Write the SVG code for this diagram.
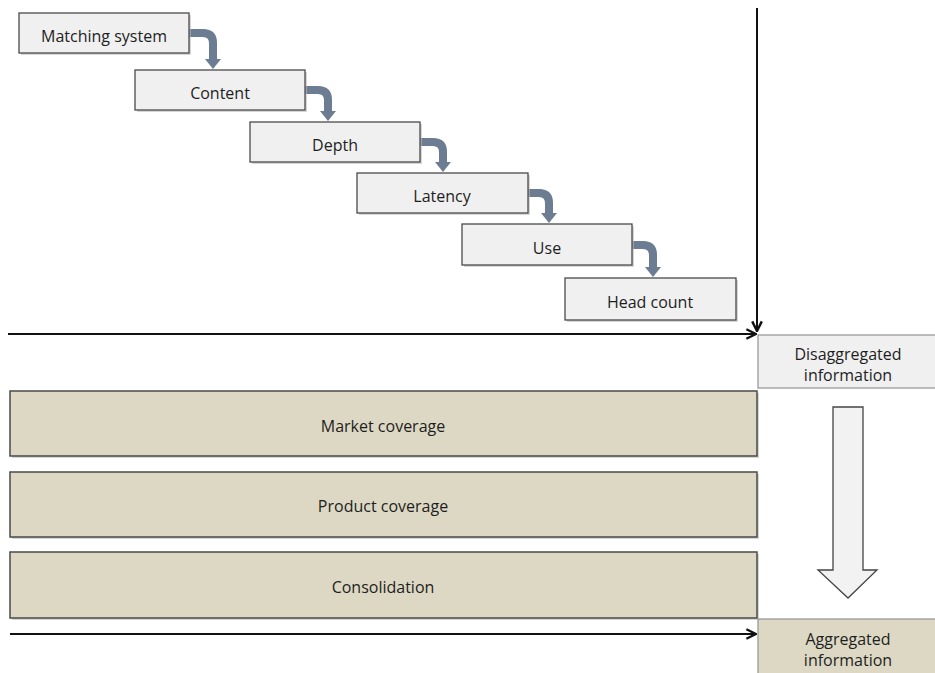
<svg xmlns="http://www.w3.org/2000/svg" width="935" height="673" viewBox="0 0 935 673">
<style>
.step{fill:#f0f0f0;stroke:#4a4a4a;stroke-width:1.3}
.band{fill:#ddd8c4;stroke:#4a4a4a;stroke-width:1.5}
.shadow{fill:#bbbbbb;opacity:0.6}
.t{font-family:"Open Sans","Liberation Sans",sans-serif;font-size:16px;fill:#1e1e1e;text-anchor:middle}
.flow{fill:none;stroke:#6b7c93;stroke-width:8}
.axis{stroke:#111;stroke-width:2;fill:none}
</style>
<defs>
<marker id="fh" viewBox="0 0 10 10" preserveAspectRatio="none" refX="0" refY="5" markerWidth="10" markerHeight="16" markerUnits="userSpaceOnUse" orient="auto">
<path d="M0,0 L10,5 L0,10 Z" fill="#6b7c93"/>
</marker>
<marker id="ah" viewBox="0 0 10 10" refX="9" refY="5" markerWidth="12" markerHeight="12" markerUnits="userSpaceOnUse" orient="auto">
<path d="M1,1 L9,5 L1,9" fill="none" stroke="#111" stroke-width="2"/>
</marker>
</defs>
<g id="connectors">
<path class="flow" d="M189,33 H203 Q213,33 213,43 V59" marker-end="url(#fh)"/>
<path class="flow" d="M305,90 H318 Q328,90 328,100 V111" marker-end="url(#fh)"/>
<path class="flow" d="M420,142 H433 Q443,142 443,152 V162" marker-end="url(#fh)"/>
<path class="flow" d="M528,193 H539 Q549,193 549,203 V213" marker-end="url(#fh)"/>
<path class="flow" d="M632,245 H643 Q653,245 653,255 V267" marker-end="url(#fh)"/>
<path class="axis" d="M757,8 V331" marker-end="url(#ah)"/>
<path class="axis" d="M8,334 H756" marker-end="url(#ah)"/>
<path class="axis" d="M10,634 H756" marker-end="url(#ah)"/>
</g>
<g id="n1"><rect class="shadow" x="21" y="15" width="170" height="40"/><rect class="step" x="19" y="13" width="170" height="40"/><text class="t" x="104" y="42">Matching system</text></g>
<g id="n2"><rect class="shadow" x="137" y="72" width="170" height="40"/><rect class="step" x="135" y="70" width="170" height="40"/><text class="t" x="220" y="99">Content</text></g>
<g id="n3"><rect class="shadow" x="252" y="124" width="170" height="40"/><rect class="step" x="250" y="122" width="170" height="40"/><text class="t" x="335" y="151">Depth</text></g>
<g id="n4"><rect class="shadow" x="359" y="175" width="171" height="40"/><rect class="step" x="357" y="173" width="171" height="40"/><text class="t" x="442" y="202">Latency</text></g>
<g id="n5"><rect class="shadow" x="464" y="226" width="170" height="41"/><rect class="step" x="462" y="224" width="170" height="41"/><text class="t" x="547" y="254">Use</text></g>
<g id="n6"><rect class="shadow" x="567" y="280" width="171" height="42"/><rect class="step" x="565" y="278" width="171" height="42"/><text class="t" x="650" y="308">Head count</text></g>
<g id="disagg"><rect x="758" y="335" width="180" height="53" fill="#f0f0f0" stroke="#9a9a9a" stroke-width="1.3"/><text class="t" x="848" y="360">Disaggregated</text><text class="t" x="848" y="381">information</text></g>
<g id="market"><rect class="shadow" x="12" y="393" width="747" height="65"/><rect class="band" x="10" y="391" width="747" height="65"/><text class="t" x="383" y="432">Market coverage</text></g>
<g id="product"><rect class="shadow" x="12" y="474" width="747" height="65"/><rect class="band" x="10" y="472" width="747" height="65"/><text class="t" x="383" y="512">Product coverage</text></g>
<g id="consol"><rect class="shadow" x="12" y="554" width="747" height="66"/><rect class="band" x="10" y="552" width="747" height="66"/><text class="t" x="383" y="593">Consolidation</text></g>
<g id="bigarrow"><path d="M833,407 H863 V570 H877 L848,598 L818,570 H833 Z" fill="#f2f2f2" stroke="#444" stroke-width="1.3"/></g>
<g id="agg"><rect x="758" y="619" width="180" height="56" fill="#ddd8c4" stroke="#9a9a9a" stroke-width="1.3"/><text class="t" x="848" y="645">Aggregated</text><text class="t" x="848" y="666">information</text></g>
</svg>
